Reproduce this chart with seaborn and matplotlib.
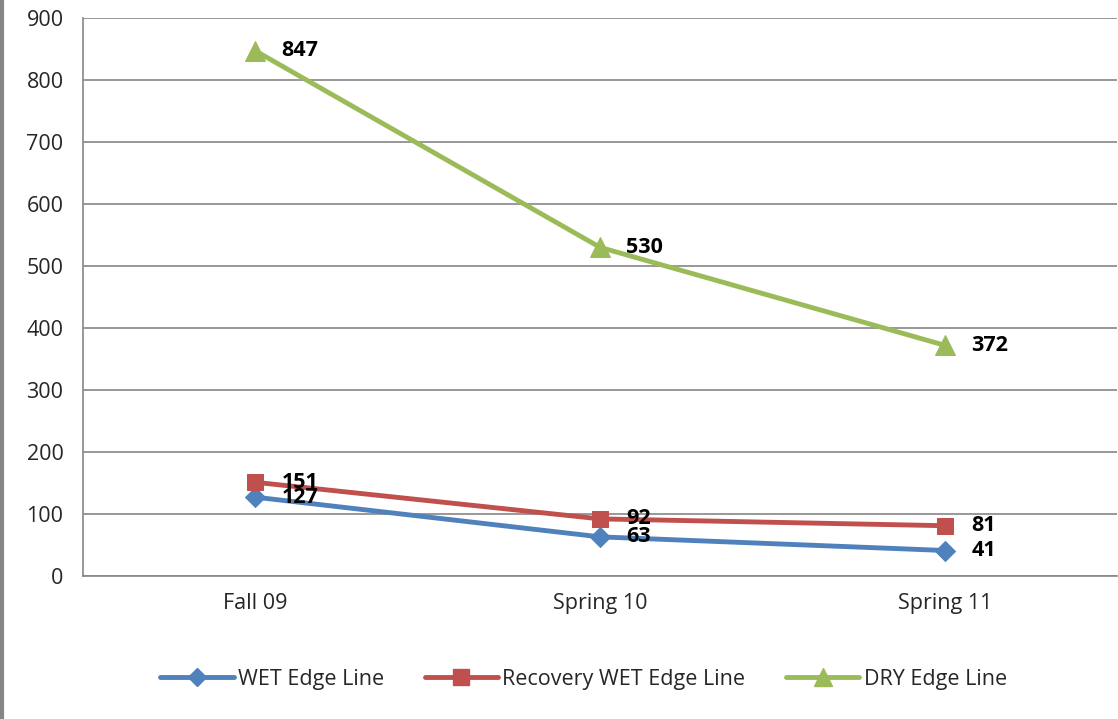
import matplotlib

matplotlib.use("Agg")
import matplotlib.pyplot as plt  # noqa: E402
import pandas as pd  # noqa: E402
import seaborn as sns  # noqa: E402
from matplotlib.lines import Line2D  # noqa: E402

CATEGORIES = ["Fall 09", "Spring 10", "Spring 11"]
SERIES = ["WET Edge Line", "Recovery WET Edge Line", "DRY Edge Line"]
WET = [127, 63, 41]
RECOVERY_WET = [151, 92, 81]
DRY = [847, 530, 372]
Y_TICKS = [0, 100, 200, 300, 400, 500, 600, 700, 800, 900]

COLORS = {"WET Edge Line": "#4F81BD",
          "Recovery WET Edge Line": "#C0504D",
          "DRY Edge Line": "#9BBB59"}
MARKERS = {"WET Edge Line": "D",
           "Recovery WET Edge Line": "s",
           "DRY Edge Line": "^"}
MSIZE = {"WET Edge Line": 10, "Recovery WET Edge Line": 12, "DRY Edge Line": 14}

sns.set_style("white")
plt.rcParams["font.family"] = ["Open Sans", "DejaVu Sans"]

rows = []
for name, vals in zip(SERIES, [WET, RECOVERY_WET, DRY]):
    for i, v in enumerate(vals):
        rows.append({"pos": i, "value": v, "series": name})
df = pd.DataFrame(rows)

fig = plt.figure(figsize=(11.18, 7.19), dpi=100)
ax = fig.add_axes([0.0742, 0.199, 0.925, 0.776])

for name in SERIES:
    sub = df[df["series"] == name]
    sns.lineplot(data=sub, x="pos", y="value", ax=ax, color=COLORS[name],
                 linewidth=3.5, marker=MARKERS[name], markersize=MSIZE[name],
                 markeredgecolor=COLORS[name], legend=False)
    for _, r in sub.iterrows():
        ax.annotate(str(r["value"]), (r["pos"], r["value"]),
                    xytext=(19, 0), textcoords="offset points",
                    ha="left", va="center", fontsize=15.5, fontweight="bold",
                    color="black")

ax.set_xlim(-0.5, 2.5)
ax.set_ylim(0, 900)
ax.set_yticks(Y_TICKS)
ax.set_yticklabels([str(t) for t in Y_TICKS], fontsize=15.5)
ax.set_xticks(range(len(CATEGORIES)))
ax.set_xticklabels(CATEGORIES, fontsize=15.5)
ax.tick_params(axis="x", length=0, pad=12)
ax.tick_params(axis="y", length=6, width=1.2, color="#868686", pad=8)
ax.set_xticks([-0.5, 0.5, 1.5, 2.5], minor=True)
ax.tick_params(axis="x", which="minor", length=7, width=1.2, color="#868686")
ax.set_xlabel("")
ax.set_ylabel("")
ax.grid(axis="y", color="#868686", linewidth=1.2)
ax.set_axisbelow(True)
for side in ["top", "right"]:
    ax.spines[side].set_visible(False)
for side in ["left", "bottom"]:
    ax.spines[side].set_color("#868686")
    ax.spines[side].set_linewidth(1.2)

handles = [Line2D([], [], color=COLORS[n], linewidth=3.5, marker=MARKERS[n],
                  markersize=MSIZE[n] - 1, markeredgecolor=COLORS[n])
           for n in SERIES]
fig.legend(handles, SERIES, loc="center", bbox_to_anchor=(0.522, 0.055),
           ncol=3, frameon=False, fontsize=15.5, handlelength=3.4,
           columnspacing=1.9, handletextpad=0.2)

# left border of the original chart frame
fig.add_artist(Line2D([0.0015, 0.0015], [0, 1], color="#868686",
                      linewidth=3, transform=fig.transFigure))

fig.savefig("out.png", dpi=100)
